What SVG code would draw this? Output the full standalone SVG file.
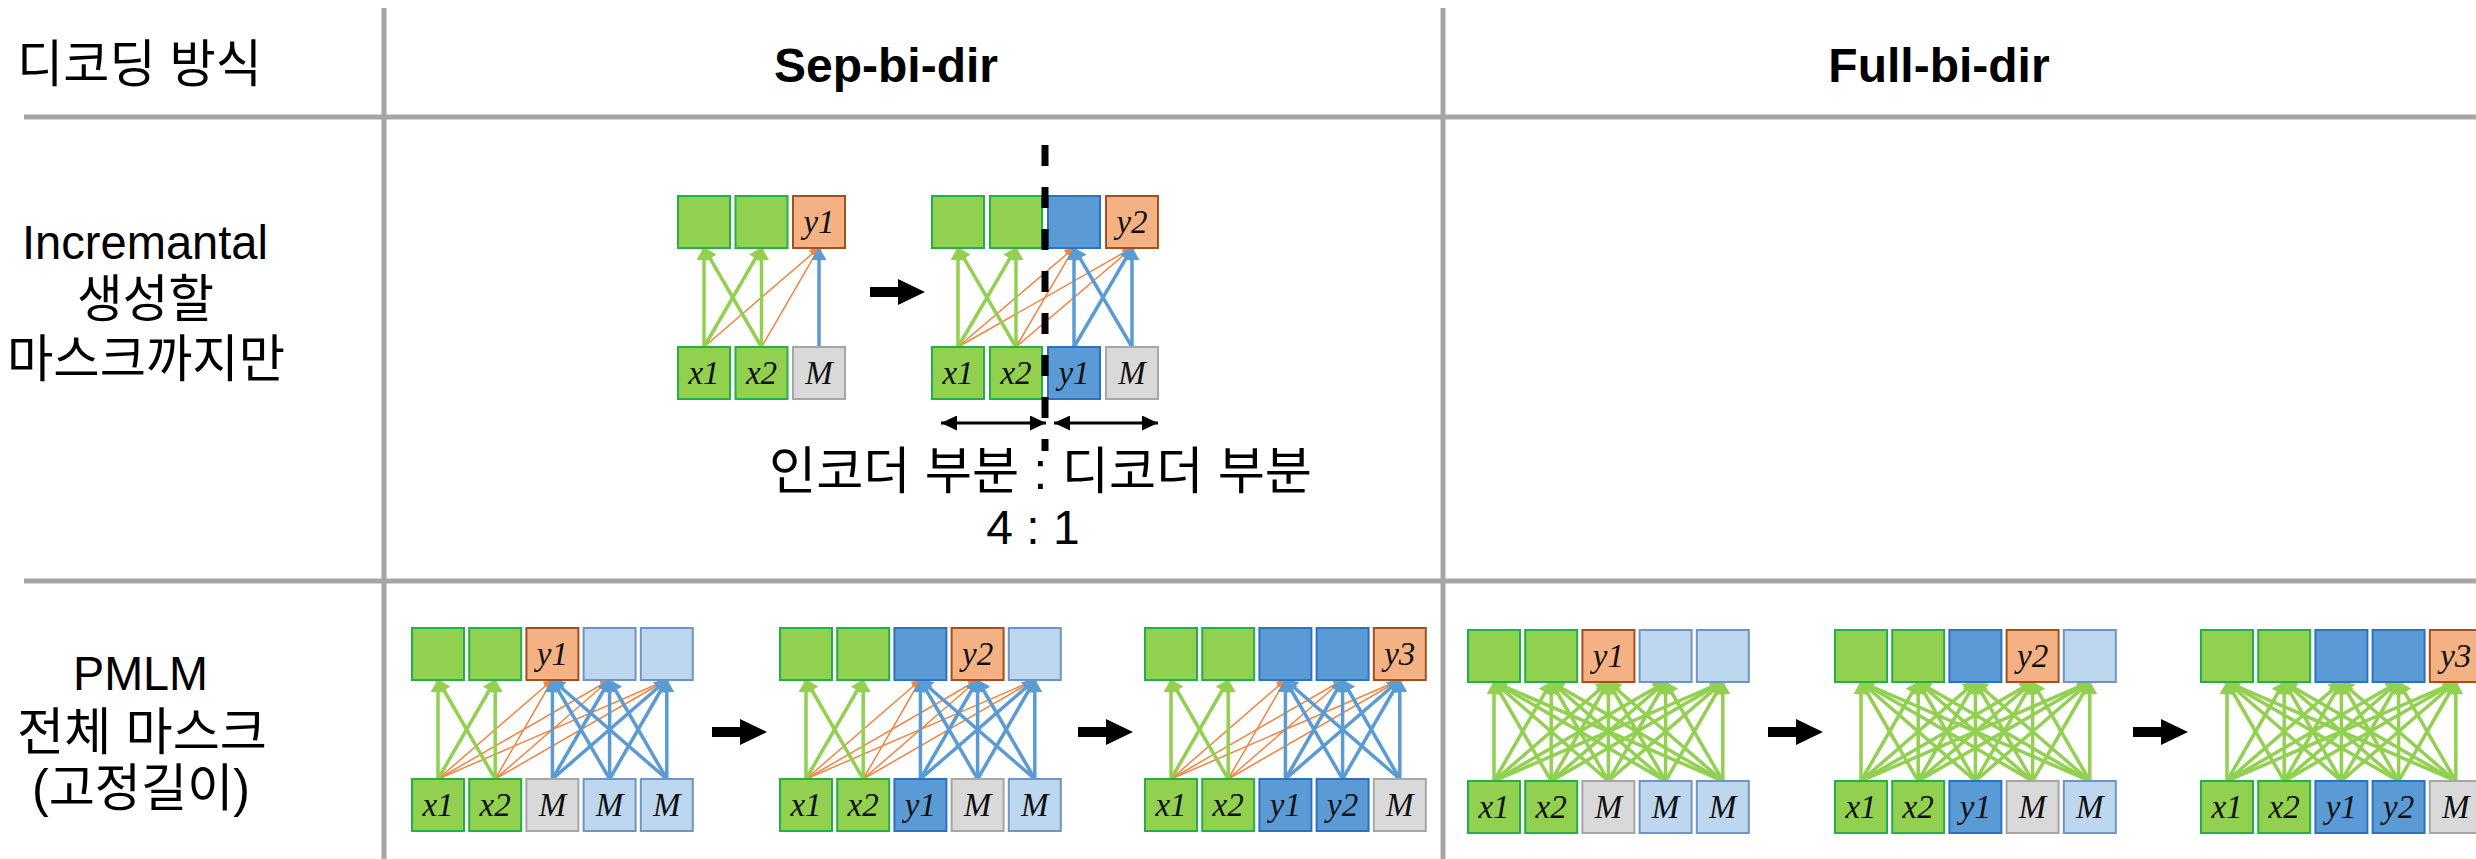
<svg xmlns="http://www.w3.org/2000/svg" xmlns:xlink="http://www.w3.org/1999/xlink" width="2476" height="859" viewBox="0 0 2476 859">
  <style>
    .grid { stroke: #a6a6a6; stroke-width: 5; fill: none; }
    .hd { font-family: "Liberation Sans", Arial, sans-serif; font-weight: bold; font-size: 48px; text-anchor: middle; fill: #000; }
    .kr { font-family: "Liberation Sans", "Noto Sans CJK KR", sans-serif; font-size: 51px; fill: #000; }
    .lat { font-family: "Liberation Sans", Arial, sans-serif; font-size: 48px; fill: #000; }
    .lbl { font-family: "Liberation Serif", "Times New Roman", serif; font-style: italic; font-size: 33px; text-anchor: middle; fill: #111; }
    rect.g { fill: #92d050; stroke: #22b04c; stroke-width: 2; }
    rect.o { fill: #f4b183; stroke: #a3501c; stroke-width: 2; }
    rect.b { fill: #5b9bd5; stroke: #2b73c2; stroke-width: 2; }
    rect.lb { fill: #bdd7ee; stroke: #6f95c4; stroke-width: 2; }
    rect.m { fill: #d9d9d9; stroke: #a6a6a6; stroke-width: 2; }
    .cg { stroke: #92d050; stroke-width: 3.5; marker-end: url(#hg); }
    .co { stroke: #f08540; stroke-width: 1.5; marker-end: url(#ho); }
    .cb { stroke: #5b9bd5; stroke-width: 3.5; marker-end: url(#hb); }
    .span { stroke: #000; stroke-width: 3; marker-start: url(#hk); marker-end: url(#hk); }
  </style>
  <defs>
    <marker id="hg" viewBox="0 0 13 15" refX="12" refY="7.5" markerWidth="13" markerHeight="15" markerUnits="userSpaceOnUse" orient="auto">
      <path d="M0,0 L13,7.5 L0,15 Z" fill="#92d050"/>
    </marker>
    <marker id="hb" viewBox="0 0 13 15" refX="12" refY="7.5" markerWidth="13" markerHeight="15" markerUnits="userSpaceOnUse" orient="auto">
      <path d="M0,0 L13,7.5 L0,15 Z" fill="#5b9bd5"/>
    </marker>
    <marker id="ho" viewBox="0 0 10 10" refX="9" refY="5" markerWidth="10" markerHeight="10" markerUnits="userSpaceOnUse" orient="auto">
      <path d="M0,0 L10,5 L0,10 Z" fill="#f08540"/>
    </marker>
    <marker id="hk" viewBox="0 0 16 15" refX="16" refY="7.5" markerWidth="16" markerHeight="15" markerUnits="userSpaceOnUse" orient="auto-start-reverse">
      <path d="M0,0 L16,7.5 L0,15 Z" fill="#000"/>
    </marker>
    <!-- block arrow between steps -->
    <path id="blk" d="M0,-5 H28 V-13 L55,0 L28,13 V5 H0 Z" fill="#000"/>
    <!-- five-token separated bidirectional wiring (local coords) -->
    <g id="sepConn">
      <line class="co" x1="26" y1="151" x2="140.4" y2="52"/>
      <line class="co" x1="26" y1="151" x2="197.6" y2="52"/>
      <line class="co" x1="26" y1="151" x2="254.8" y2="52"/>
      <line class="co" x1="83.2" y1="151" x2="140.4" y2="52"/>
      <line class="co" x1="83.2" y1="151" x2="197.6" y2="52"/>
      <line class="co" x1="83.2" y1="151" x2="254.8" y2="52"/>
      <line class="cg" x1="26" y1="151" x2="26" y2="52"/>
      <line class="cg" x1="26" y1="151" x2="83.2" y2="52"/>
      <line class="cg" x1="83.2" y1="151" x2="26" y2="52"/>
      <line class="cg" x1="83.2" y1="151" x2="83.2" y2="52"/>
      <line class="cb" x1="140.4" y1="151" x2="140.4" y2="52"/>
      <line class="cb" x1="140.4" y1="151" x2="197.6" y2="52"/>
      <line class="cb" x1="140.4" y1="151" x2="254.8" y2="52"/>
      <line class="cb" x1="197.6" y1="151" x2="140.4" y2="52"/>
      <line class="cb" x1="197.6" y1="151" x2="197.6" y2="52"/>
      <line class="cb" x1="197.6" y1="151" x2="254.8" y2="52"/>
      <line class="cb" x1="254.8" y1="151" x2="140.4" y2="52"/>
      <line class="cb" x1="254.8" y1="151" x2="197.6" y2="52"/>
      <line class="cb" x1="254.8" y1="151" x2="254.8" y2="52"/>
    </g>
    <!-- five-token fully bidirectional wiring (local coords) -->
    <g id="fullConn">
      <line class="cg" x1="26" y1="151" x2="26" y2="52"/>
      <line class="cg" x1="26" y1="151" x2="83.2" y2="52"/>
      <line class="cg" x1="26" y1="151" x2="140.4" y2="52"/>
      <line class="cg" x1="26" y1="151" x2="197.6" y2="52"/>
      <line class="cg" x1="26" y1="151" x2="254.8" y2="52"/>
      <line class="cg" x1="83.2" y1="151" x2="26" y2="52"/>
      <line class="cg" x1="83.2" y1="151" x2="83.2" y2="52"/>
      <line class="cg" x1="83.2" y1="151" x2="140.4" y2="52"/>
      <line class="cg" x1="83.2" y1="151" x2="197.6" y2="52"/>
      <line class="cg" x1="83.2" y1="151" x2="254.8" y2="52"/>
      <line class="cg" x1="140.4" y1="151" x2="26" y2="52"/>
      <line class="cg" x1="140.4" y1="151" x2="83.2" y2="52"/>
      <line class="cg" x1="140.4" y1="151" x2="140.4" y2="52"/>
      <line class="cg" x1="140.4" y1="151" x2="197.6" y2="52"/>
      <line class="cg" x1="140.4" y1="151" x2="254.8" y2="52"/>
      <line class="cg" x1="197.6" y1="151" x2="26" y2="52"/>
      <line class="cg" x1="197.6" y1="151" x2="83.2" y2="52"/>
      <line class="cg" x1="197.6" y1="151" x2="140.4" y2="52"/>
      <line class="cg" x1="197.6" y1="151" x2="197.6" y2="52"/>
      <line class="cg" x1="197.6" y1="151" x2="254.8" y2="52"/>
      <line class="cg" x1="254.8" y1="151" x2="26" y2="52"/>
      <line class="cg" x1="254.8" y1="151" x2="83.2" y2="52"/>
      <line class="cg" x1="254.8" y1="151" x2="140.4" y2="52"/>
      <line class="cg" x1="254.8" y1="151" x2="197.6" y2="52"/>
      <line class="cg" x1="254.8" y1="151" x2="254.8" y2="52"/>
    </g>
  </defs>

  <rect x="0" y="0" width="2476" height="859" fill="#fff"/>

  <!-- table rules -->
  <g id="table-grid">
    <line class="grid" x1="384" y1="8" x2="384" y2="859"/>
    <line class="grid" x1="1443" y1="8" x2="1443" y2="859"/>
    <line class="grid" x1="24" y1="117" x2="2476" y2="117"/>
    <line class="grid" x1="24" y1="581" x2="2476" y2="581"/>
  </g>

  <!-- headers and row labels -->
  <g id="headers">
    <text class="kr" x="17" y="82" textLength="245" lengthAdjust="spacingAndGlyphs">디코딩 방식</text>
    <text class="hd" x="886" y="82">Sep-bi-dir</text>
    <text class="hd" x="1939" y="82">Full-bi-dir</text>
  </g>
  <g id="row-incremental-label">
    <text class="lat" x="22" y="259" font-size="49" textLength="246" lengthAdjust="spacingAndGlyphs">Incremantal</text>
    <text class="kr" x="77" y="317" textLength="137" lengthAdjust="spacingAndGlyphs">생성할</text>
    <text class="kr" x="7" y="377" textLength="278" lengthAdjust="spacingAndGlyphs">마스크까지만</text>
  </g>
  <g id="row-pmlm-label">
    <text class="lat" x="73" y="690" font-size="47" textLength="135" lengthAdjust="spacingAndGlyphs">PMLM</text>
    <text class="kr" x="17" y="750" textLength="250" lengthAdjust="spacingAndGlyphs">전체 마스크</text>
    <text class="kr" x="32" y="806" textLength="218" lengthAdjust="spacingAndGlyphs">(고정길이)</text>
  </g>

  <!-- connectors -->
  <g id="connectors">
    <g transform="translate(678,196)">
      <line class="co" x1="26" y1="151" x2="141" y2="52"/>
      <line class="co" x1="83.5" y1="151" x2="141" y2="52"/>
      <line class="cg" x1="26" y1="151" x2="26" y2="52"/>
      <line class="cg" x1="26" y1="151" x2="83.5" y2="52"/>
      <line class="cg" x1="83.5" y1="151" x2="26" y2="52"/>
      <line class="cg" x1="83.5" y1="151" x2="83.5" y2="52"/>
      <line class="cb" x1="141" y1="151" x2="141" y2="52"/>
    </g>
    <g transform="translate(932,196)">
      <line class="co" x1="26" y1="151" x2="142" y2="52"/>
      <line class="co" x1="26" y1="151" x2="200" y2="52"/>
      <line class="co" x1="84" y1="151" x2="142" y2="52"/>
      <line class="co" x1="84" y1="151" x2="200" y2="52"/>
      <line class="cg" x1="26" y1="151" x2="26" y2="52"/>
      <line class="cg" x1="26" y1="151" x2="84" y2="52"/>
      <line class="cg" x1="84" y1="151" x2="26" y2="52"/>
      <line class="cg" x1="84" y1="151" x2="84" y2="52"/>
      <line class="cb" x1="142" y1="151" x2="142" y2="52"/>
      <line class="cb" x1="142" y1="151" x2="200" y2="52"/>
      <line class="cb" x1="200" y1="151" x2="142" y2="52"/>
      <line class="cb" x1="200" y1="151" x2="200" y2="52"/>
    </g>
    <use href="#sepConn" x="412" y="628"/>
    <use href="#sepConn" x="780" y="628"/>
    <use href="#sepConn" x="1145" y="628"/>
    <use href="#fullConn" x="1468" y="630"/>
    <use href="#fullConn" x="1835" y="630"/>
    <use href="#fullConn" x="2201" y="630"/>
  </g>

  <!-- step arrows -->
  <g id="step-arrows">
    <use href="#blk" x="870" y="292"/>
    <use href="#blk" x="712" y="732"/>
    <use href="#blk" x="1078" y="732"/>
    <use href="#blk" x="1768" y="732"/>
    <use href="#blk" x="2133" y="732"/>
  </g>

  <!-- incremental, step 1 -->
  <g id="inc1" transform="translate(678,196)">
    <g id="inc1-out1"><rect class="g" x="0" y="0" width="52" height="52"/></g>
    <g id="inc1-out2"><rect class="g" x="57.5" y="0" width="52" height="52"/></g>
    <g id="inc1-out3"><rect class="o" x="115" y="0" width="52" height="52"/><text class="lbl" x="141" y="37">y1</text></g>
    <g id="inc1-in1"><rect class="g" x="0" y="151" width="52" height="52"/><text class="lbl" x="26" y="188">x1</text></g>
    <g id="inc1-in2"><rect class="g" x="57.5" y="151" width="52" height="52"/><text class="lbl" x="83.5" y="188">x2</text></g>
    <g id="inc1-in3"><rect class="m" x="115" y="151" width="52" height="52"/><text class="lbl" x="141" y="188">M</text></g>
  </g>

  <!-- incremental, step 2 -->
  <g id="inc2" transform="translate(932,196)">
    <g id="inc2-out1"><rect class="g" x="0" y="0" width="52" height="52"/></g>
    <g id="inc2-out2"><rect class="g" x="58" y="0" width="52" height="52"/></g>
    <g id="inc2-out3"><rect class="b" x="116" y="0" width="52" height="52"/></g>
    <g id="inc2-out4"><rect class="o" x="174" y="0" width="52" height="52"/><text class="lbl" x="200" y="37">y2</text></g>
    <g id="inc2-in1"><rect class="g" x="0" y="151" width="52" height="52"/><text class="lbl" x="26" y="188">x1</text></g>
    <g id="inc2-in2"><rect class="g" x="58" y="151" width="52" height="52"/><text class="lbl" x="84" y="188">x2</text></g>
    <g id="inc2-in3"><rect class="b" x="116" y="151" width="52" height="52"/><text class="lbl" x="142" y="188">y1</text></g>
    <g id="inc2-in4"><rect class="m" x="174" y="151" width="52" height="52"/><text class="lbl" x="200" y="188">M</text></g>
  </g>

  <!-- encoder / decoder split -->
  <g id="split">
    <line x1="1045" y1="145" x2="1045" y2="451" stroke="#000" stroke-width="7" stroke-dasharray="21 21"/>
    <line class="span" x1="941" y1="423" x2="1046" y2="423"/>
    <line class="span" x1="1054" y1="423" x2="1158" y2="423"/>
    <text class="kr" x="769" y="489" textLength="543" lengthAdjust="spacingAndGlyphs">인코더 부분 : 디코더 부분</text>
    <text class="lat" x="1033" y="544" font-size="45" text-anchor="middle">4 : 1</text>
  </g>

  <!-- PMLM sep-bi-dir, step 1 -->
  <g id="sep1" transform="translate(412,628)">
    <g id="sep1-out1"><rect class="g" x="0" y="0" width="52" height="52"/></g>
    <g id="sep1-out2"><rect class="g" x="57.2" y="0" width="52" height="52"/></g>
    <g id="sep1-out3"><rect class="o" x="114.4" y="0" width="52" height="52"/><text class="lbl" x="140.4" y="37">y1</text></g>
    <g id="sep1-out4"><rect class="lb" x="171.6" y="0" width="52" height="52"/></g>
    <g id="sep1-out5"><rect class="lb" x="228.8" y="0" width="52" height="52"/></g>
    <g id="sep1-in1"><rect class="g" x="0" y="151" width="52" height="52"/><text class="lbl" x="26" y="188">x1</text></g>
    <g id="sep1-in2"><rect class="g" x="57.2" y="151" width="52" height="52"/><text class="lbl" x="83.2" y="188">x2</text></g>
    <g id="sep1-in3"><rect class="m" x="114.4" y="151" width="52" height="52"/><text class="lbl" x="140.4" y="188">M</text></g>
    <g id="sep1-in4"><rect class="lb" x="171.6" y="151" width="52" height="52"/><text class="lbl" x="197.6" y="188">M</text></g>
    <g id="sep1-in5"><rect class="lb" x="228.8" y="151" width="52" height="52"/><text class="lbl" x="254.8" y="188">M</text></g>
  </g>

  <!-- PMLM sep-bi-dir, step 2 -->
  <g id="sep2" transform="translate(780,628)">
    <g id="sep2-out1"><rect class="g" x="0" y="0" width="52" height="52"/></g>
    <g id="sep2-out2"><rect class="g" x="57.2" y="0" width="52" height="52"/></g>
    <g id="sep2-out3"><rect class="b" x="114.4" y="0" width="52" height="52"/></g>
    <g id="sep2-out4"><rect class="o" x="171.6" y="0" width="52" height="52"/><text class="lbl" x="197.6" y="37">y2</text></g>
    <g id="sep2-out5"><rect class="lb" x="228.8" y="0" width="52" height="52"/></g>
    <g id="sep2-in1"><rect class="g" x="0" y="151" width="52" height="52"/><text class="lbl" x="26" y="188">x1</text></g>
    <g id="sep2-in2"><rect class="g" x="57.2" y="151" width="52" height="52"/><text class="lbl" x="83.2" y="188">x2</text></g>
    <g id="sep2-in3"><rect class="b" x="114.4" y="151" width="52" height="52"/><text class="lbl" x="140.4" y="188">y1</text></g>
    <g id="sep2-in4"><rect class="m" x="171.6" y="151" width="52" height="52"/><text class="lbl" x="197.6" y="188">M</text></g>
    <g id="sep2-in5"><rect class="lb" x="228.8" y="151" width="52" height="52"/><text class="lbl" x="254.8" y="188">M</text></g>
  </g>

  <!-- PMLM sep-bi-dir, step 3 -->
  <g id="sep3" transform="translate(1145,628)">
    <g id="sep3-out1"><rect class="g" x="0" y="0" width="52" height="52"/></g>
    <g id="sep3-out2"><rect class="g" x="57.2" y="0" width="52" height="52"/></g>
    <g id="sep3-out3"><rect class="b" x="114.4" y="0" width="52" height="52"/></g>
    <g id="sep3-out4"><rect class="b" x="171.6" y="0" width="52" height="52"/></g>
    <g id="sep3-out5"><rect class="o" x="228.8" y="0" width="52" height="52"/><text class="lbl" x="254.8" y="37">y3</text></g>
    <g id="sep3-in1"><rect class="g" x="0" y="151" width="52" height="52"/><text class="lbl" x="26" y="188">x1</text></g>
    <g id="sep3-in2"><rect class="g" x="57.2" y="151" width="52" height="52"/><text class="lbl" x="83.2" y="188">x2</text></g>
    <g id="sep3-in3"><rect class="b" x="114.4" y="151" width="52" height="52"/><text class="lbl" x="140.4" y="188">y1</text></g>
    <g id="sep3-in4"><rect class="b" x="171.6" y="151" width="52" height="52"/><text class="lbl" x="197.6" y="188">y2</text></g>
    <g id="sep3-in5"><rect class="m" x="228.8" y="151" width="52" height="52"/><text class="lbl" x="254.8" y="188">M</text></g>
  </g>

  <!-- PMLM full-bi-dir, step 1 -->
  <g id="full1" transform="translate(1468,630)">
    <g id="full1-out1"><rect class="g" x="0" y="0" width="52" height="52"/></g>
    <g id="full1-out2"><rect class="g" x="57.2" y="0" width="52" height="52"/></g>
    <g id="full1-out3"><rect class="o" x="114.4" y="0" width="52" height="52"/><text class="lbl" x="140.4" y="37">y1</text></g>
    <g id="full1-out4"><rect class="lb" x="171.6" y="0" width="52" height="52"/></g>
    <g id="full1-out5"><rect class="lb" x="228.8" y="0" width="52" height="52"/></g>
    <g id="full1-in1"><rect class="g" x="0" y="151" width="52" height="52"/><text class="lbl" x="26" y="188">x1</text></g>
    <g id="full1-in2"><rect class="g" x="57.2" y="151" width="52" height="52"/><text class="lbl" x="83.2" y="188">x2</text></g>
    <g id="full1-in3"><rect class="m" x="114.4" y="151" width="52" height="52"/><text class="lbl" x="140.4" y="188">M</text></g>
    <g id="full1-in4"><rect class="lb" x="171.6" y="151" width="52" height="52"/><text class="lbl" x="197.6" y="188">M</text></g>
    <g id="full1-in5"><rect class="lb" x="228.8" y="151" width="52" height="52"/><text class="lbl" x="254.8" y="188">M</text></g>
  </g>

  <!-- PMLM full-bi-dir, step 2 -->
  <g id="full2" transform="translate(1835,630)">
    <g id="full2-out1"><rect class="g" x="0" y="0" width="52" height="52"/></g>
    <g id="full2-out2"><rect class="g" x="57.2" y="0" width="52" height="52"/></g>
    <g id="full2-out3"><rect class="b" x="114.4" y="0" width="52" height="52"/></g>
    <g id="full2-out4"><rect class="o" x="171.6" y="0" width="52" height="52"/><text class="lbl" x="197.6" y="37">y2</text></g>
    <g id="full2-out5"><rect class="lb" x="228.8" y="0" width="52" height="52"/></g>
    <g id="full2-in1"><rect class="g" x="0" y="151" width="52" height="52"/><text class="lbl" x="26" y="188">x1</text></g>
    <g id="full2-in2"><rect class="g" x="57.2" y="151" width="52" height="52"/><text class="lbl" x="83.2" y="188">x2</text></g>
    <g id="full2-in3"><rect class="b" x="114.4" y="151" width="52" height="52"/><text class="lbl" x="140.4" y="188">y1</text></g>
    <g id="full2-in4"><rect class="m" x="171.6" y="151" width="52" height="52"/><text class="lbl" x="197.6" y="188">M</text></g>
    <g id="full2-in5"><rect class="lb" x="228.8" y="151" width="52" height="52"/><text class="lbl" x="254.8" y="188">M</text></g>
  </g>

  <!-- PMLM full-bi-dir, step 3 -->
  <g id="full3" transform="translate(2201,630)">
    <g id="full3-out1"><rect class="g" x="0" y="0" width="52" height="52"/></g>
    <g id="full3-out2"><rect class="g" x="57.2" y="0" width="52" height="52"/></g>
    <g id="full3-out3"><rect class="b" x="114.4" y="0" width="52" height="52"/></g>
    <g id="full3-out4"><rect class="b" x="171.6" y="0" width="52" height="52"/></g>
    <g id="full3-out5"><rect class="o" x="228.8" y="0" width="52" height="52"/><text class="lbl" x="254.8" y="37">y3</text></g>
    <g id="full3-in1"><rect class="g" x="0" y="151" width="52" height="52"/><text class="lbl" x="26" y="188">x1</text></g>
    <g id="full3-in2"><rect class="g" x="57.2" y="151" width="52" height="52"/><text class="lbl" x="83.2" y="188">x2</text></g>
    <g id="full3-in3"><rect class="b" x="114.4" y="151" width="52" height="52"/><text class="lbl" x="140.4" y="188">y1</text></g>
    <g id="full3-in4"><rect class="b" x="171.6" y="151" width="52" height="52"/><text class="lbl" x="197.6" y="188">y2</text></g>
    <g id="full3-in5"><rect class="m" x="228.8" y="151" width="52" height="52"/><text class="lbl" x="254.8" y="188">M</text></g>
  </g>
</svg>
